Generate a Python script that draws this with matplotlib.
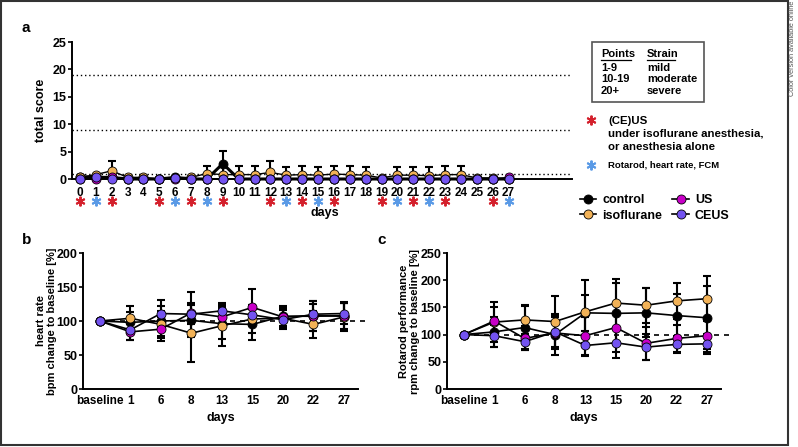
import matplotlib.pyplot as plt
import numpy as np
from matplotlib.lines import Line2D
from matplotlib.patches import Rectangle

plt.rcParams['font.family'] = ['Liberation Sans', 'DejaVu Sans']
plt.rcParams['font.weight'] = 'bold'

W, H = 798, 447

# ---- panel a: total score per day ----
days = list(range(28))
ctrl_a = [0.4, 0.3, 0.3, 0, 0, 0, 0.3, 0, 0, 2.8, 0, 0, 0, 0, 0, 0, 0, 0, 0, 0, 0, 0, 0, 0, 0, 0, 0, 0]
ctrl_a_err = [0, 0, 0, 0, 0, 0, 0, 0, 0, 2.4, 0, 0, 0, 0, 0, 0, 0, 0, 0, 0, 0, 0, 0, 0, 0, 0, 0, 0]
iso_a = [0.3, 0.8, 1.5, 0.3, 0.3, 0, 0.2, 0.3, 1.0, 0.8, 0.8, 0.8, 1.2, 0.7, 0.8, 0.7, 0.9, 0.8, 0.7, 0.2,
         0.7, 0.7, 0.6, 0.8, 0.8, 0.2, 0.2, 0]
iso_a_err = [0, 0, 1.8, 0, 0, 0, 0, 0, 1.4, 1.5, 1.5, 1.5, 2.0, 1.5, 1.5, 1.5, 1.4, 1.5, 1.5, 0,
             1.5, 1.5, 1.5, 1.5, 1.5, 0, 0, 0]
us_a = [0, 0, 0.3, 0, 0, 0, 0, 0, 0, 0, 0, 0, 0, 0, 0, 0, 0, 0, 0, 0, 0, 0, 0, 0, 0, 0, 0, 0.3]
ceus_a = [0, 0.3, 0, 0, 0, 0, 0.2, 0, 0, 0, 0, 0, 0, 0, 0, 0, 0, 0, 0, 0, 0, 0, 0, 0, 0, 0, 0, 0]
thresholds = [1, 9, 19]
red_days = [0, 2, 5, 7, 9, 12, 14, 16, 19, 21, 23, 26]
blue_days = [1, 6, 8, 13, 15, 20, 22, 27]

# ---- panel b / c ----
tp_labels = ['baseline', '1', '6', '8', '13', '15', '20', '22', '27']
hr_ctrl = [100, 98, 100, 101, 96, 95, 107, 107, 108]
hr_ctrl_sd = [0, 15, 22, 25, 22, 23, 15, 22, 20]
hr_iso = [100, 104, 95, 82, 93, 103, 104, 95, 106]
hr_iso_sd = [0, 18, 20, 42, 30, 20, 15, 20, 20]
hr_us = [100, 84, 88, 112, 106, 120, 106, 108, 107]
hr_us_sd = [0, 12, 18, 31, 15, 27, 15, 22, 20]
hr_ceus = [100, 87, 111, 110, 115, 109, 102, 110, 111]
hr_ceus_sd = [0, 15, 20, 15, 12, 14, 14, 15, 15]

rr_ctrl = [100, 105, 113, 100, 140, 139, 140, 135, 131]
rr_ctrl_sd = [0, 28, 40, 38, 33, 55, 45, 40, 58]
rr_iso = [100, 123, 127, 124, 142, 158, 154, 162, 166]
rr_iso_sd = [0, 37, 28, 47, 58, 45, 32, 33, 41]
rr_us = [100, 125, 93, 103, 98, 113, 84, 93, 98]
rr_us_sd = [0, 25, 22, 30, 35, 45, 30, 25, 30]
rr_ceus = [100, 98, 87, 105, 80, 85, 77, 82, 83]
rr_ceus_sd = [0, 20, 15, 30, 20, 28, 24, 15, 19]

c_ctrl = 'black'
c_iso = '#f2b257'
c_us = '#c800c8'
c_ceus = '#7353f0'
c_red = '#d4202c'
c_blue = '#5a9ae6'

fig = plt.figure(figsize=(W / 100, H / 100), dpi=100)


def px_axes(l, r, t, b):
    return fig.add_axes([l / W, 1 - b / H, (r - l) / W, (b - t) / H])


def style(ax, xpad=4):
    for s in ['top', 'right']:
        ax.spines[s].set_visible(False)
    for s in ['left', 'bottom']:
        ax.spines[s].set_linewidth(1.4)
    ax.tick_params(axis='y', length=3, width=1.2, labelsize=9, pad=1)
    ax.tick_params(axis='x', length=0, labelsize=8.5, pad=xpad)


# outer frame
fig.add_artist(Rectangle((1 / W, 2 / H), 787 / W, 444 / H, transform=fig.transFigure,
                         fill=False, edgecolor='#333333', lw=1.5))
fig.text(793 / W, 1 - 1 / H, 'Color version available online', rotation=90, va='top', ha='center',
         fontsize=5.3, fontweight='normal', color='#555555')

# ---- panel a ----
ax = px_axes(72, 572, 42, 179)
style(ax, xpad=6)
ax.set_xlim(-0.5, 31)
ax.set_ylim(0, 25)
ax.set_yticks([0, 5, 10, 15, 20, 25])
ax.set_xticks(days)
ax.set_xticklabels([str(d) for d in days])
for t in thresholds:
    ax.axhline(t, color='black', ls=(0, (1, 2)), lw=1)
series_a = [(ctrl_a, ctrl_a_err, c_ctrl, 2.2), (iso_a, iso_a_err, c_iso, 1.0),
            (us_a, None, c_us, 1.0), (ceus_a, None, c_ceus, 1.0)]
for vals, err, col, lw in series_a:
    if err is not None:
        ax.errorbar(days, vals, yerr=[np.zeros(len(vals)), err], fmt='none', ecolor='black',
                    elinewidth=1.5, capsize=3, capthick=1.5)
    ax.plot(days, vals, color='black', lw=lw, marker='o', ms=6.5, mfc=col, mec='black', mew=0.6,
            clip_on=False, zorder=3)
ax.set_ylabel('total score', fontsize=9, fontweight='bold', labelpad=4)
ax.plot(red_days, [-0.16] * len(red_days), transform=ax.get_xaxis_transform(), ls='none',
        marker=(6, 2, 0), ms=7, mec=c_red, mew=1.4, clip_on=False)
ax.plot(blue_days, [-0.16] * len(blue_days), transform=ax.get_xaxis_transform(), ls='none',
        marker=(6, 2, 0), ms=7, mec=c_blue, mew=1.4, clip_on=False)
fig.text(325 / W, 1 - 213 / H, 'days', ha='center', va='center', fontsize=9, fontweight='bold')
fig.text(26 / W, 1 - 28 / H, 'a', ha='center', va='center', fontsize=11, fontweight='bold')

# strain box
fig.add_artist(Rectangle((592 / W, 1 - 102 / H), 112 / W, 60 / H, transform=fig.transFigure,
                         fill=False, edgecolor='#555555', lw=1.2))
fig.text(601 / W, 1 - 54 / H, 'Points', fontsize=8, va='center', fontweight='bold')
fig.text(647 / W, 1 - 54 / H, 'Strain', fontsize=8, va='center', fontweight='bold')
fig.add_artist(Line2D([601 / W, 631 / W], [1 - 60 / H] * 2, color='black', lw=0.9))
fig.add_artist(Line2D([647 / W, 675 / W], [1 - 60 / H] * 2, color='black', lw=0.9))
rows = [('1-9', 'mild'), ('10-19', 'moderate'), ('20+', 'severe')]
for i, (p, s) in enumerate(rows):
    y = 1 - (68 + i * 11.5) / H
    fig.text(601 / W, y, p, fontsize=8, va='center', fontweight='bold')
    fig.text(647 / W, y, s, fontsize=8, va='center', fontweight='bold')

# star legend
fig.add_artist(Line2D([591 / W], [1 - 120 / H], ls='none', marker=(6, 2, 0), ms=7, mec=c_red, mew=1.4))
fig.text(608 / W, 1 - 121 / H, '(CE)US', fontsize=8.2, va='center', fontweight='bold')
fig.text(608 / W, 1 - 134 / H, 'under isoflurane anesthesia,', fontsize=8.2, va='center', fontweight='bold')
fig.text(608 / W, 1 - 147 / H, 'or anesthesia alone', fontsize=8.2, va='center', fontweight='bold')
fig.add_artist(Line2D([591 / W], [1 - 165 / H], ls='none', marker=(6, 2, 0), ms=7, mec=c_blue, mew=1.4))
fig.text(608 / W, 1 - 165 / H, 'Rotarod, heart rate, FCM', fontsize=6.8, va='center', fontweight='bold')

# group legend
handles = [Line2D([], [], color='black', lw=1.2, marker='o', ms=6.5, mfc=c, mec='black', mew=0.6)
           for c in [c_ctrl, c_iso, c_us, c_ceus]]
fig.legend(handles, ['control', 'isoflurane', 'US', 'CEUS'], ncol=2, loc='center left',
           bbox_to_anchor=(580 / W, 1 - 208 / H), frameon=False, fontsize=9, handlelength=1.3,
           handletextpad=0.5, columnspacing=0.8, labelspacing=0.3, borderaxespad=0, borderpad=0)


def panel(l, r, vals, ymax, ylab, letter, lx, labx):
    ax = px_axes(l, r, 253, 389)
    style(ax)
    x = np.arange(len(tp_labels))
    ax.set_xlim(-0.55, 8.46)
    ax.set_ylim(0, ymax)
    ax.set_yticks(np.arange(0, ymax + 1, 50))
    ax.set_xticks(x)
    ax.set_xticklabels(tp_labels)
    ax.plot([0, 8.8], [100, 100], color='black', ls=(0, (3, 3)), lw=1.2, clip_on=False, zorder=1)
    for m, sd, col in vals:
        ax.errorbar(x, m, yerr=sd, fmt='none', ecolor='black', elinewidth=1.5, capsize=3,
                    capthick=1.5, zorder=2)
        ax.plot(x, m, color='black', lw=1.2, marker='o', ms=6.5, mfc=col, mec='black', mew=0.6,
                zorder=3, clip_on=False)
    ax.set_ylabel(ylab, fontsize=8, fontweight='bold', linespacing=1.15)
    ax.yaxis.set_label_coords((labx - l) / (r - l), 0.5)
    ax.set_xlabel('days', fontsize=9, fontweight='bold', labelpad=4)
    fig.text(lx / W, 1 - 240 / H, letter, ha='center', va='center', fontsize=11, fontweight='bold')


panel(83, 358, [(hr_ctrl, hr_ctrl_sd, c_ctrl), (hr_iso, hr_iso_sd, c_iso),
                (hr_us, hr_us_sd, c_us), (hr_ceus, hr_ceus_sd, c_ceus)],
      200, 'heart rate\nbpm change to baseline [%]', 'b', 27, 57)
panel(447, 721, [(rr_ctrl, rr_ctrl_sd, c_ctrl), (rr_iso, rr_iso_sd, c_iso),
                 (rr_us, rr_us_sd, c_us), (rr_ceus, rr_ceus_sd, c_ceus)],
      250, 'Rotarod performance\nrpm change to baseline [%]', 'c', 382, 420)

fig.savefig('out.png', dpi=100)
